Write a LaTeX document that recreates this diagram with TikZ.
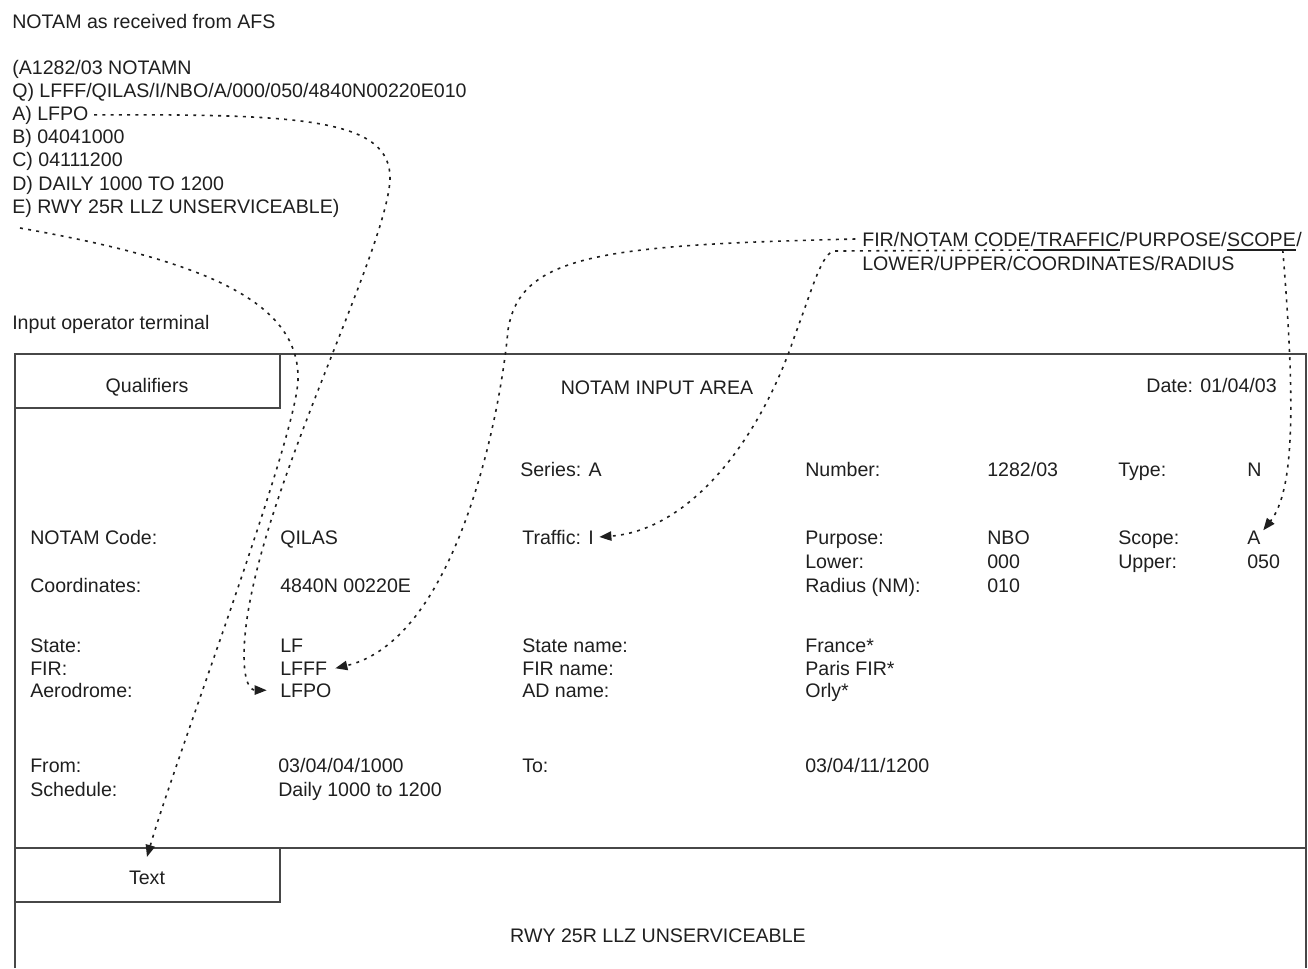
\documentclass[tikz,border=0pt]{standalone}
\usepackage{fontspec}
\setmainfont{Liberation Sans}
\usetikzlibrary{arrows.meta}
\definecolor{ink}{gray}{0.12}
\definecolor{framec}{gray}{0.28}
\tikzset{
  txt/.style={anchor=base west, inner sep=0pt, text=ink},
  txtr/.style={anchor=base east, inner sep=0pt, text=ink},
  txtc/.style={anchor=base, inner sep=0pt, text=ink},
  frame/.style={draw=framec, line width=1.4pt},
  uline/.style={draw=ink, line width=1pt},
  link/.style={draw=ink, line width=1.2pt, dash pattern=on 2.2pt off 4pt,
    -{Triangle[length=9pt,width=7pt]}},
}
\begin{document}
\begin{tikzpicture}[x=0.75pt,y=-0.75pt,font=\fontsize{14.7pt}{17.6pt}\selectfont]
\useasboundingbox (0,0) rectangle (1308,968);

% ---------- NOTAM as received ----------
\node[txt] (head) at (12,28) {NOTAM as received from AFS};
\node[txt] (l0) at (12,74) {(A1282/03 NOTAMN};
\node[txt] (lq) at (12,97) {Q) LFFF/QILAS/I/NBO/A/000/050/4840N00220E010};
\node[txt] (la) at (12,120) {A) LFPO};
\node[txt] (lb) at (12,143) {B) 04041000};
\node[txt] (lc) at (12,166) {C) 04111200};
\node[txt] (ld) at (12,190) {D) DAILY 1000 TO 1200};
\node[txt] (le) at (12,213) {E) RWY 25R LLZ UNSERVICEABLE)};

% ---------- Q line legend ----------
\node[txt] (f1) at (862,246) {FIR/NOTAM CODE/};
\node[txt] (ftraf) at (f1.base east) {TRAFFIC};
\node[txt] (f2) at (ftraf.base east) {/PURPOSE/};
\node[txt] (fscope) at (f2.base east) {SCOPE};
\node[txt] (f3) at (fscope.base east) {/};
\node[txt] (f4) at (862,270) {LOWER/UPPER/COORDINATES/RADIUS};
\draw[uline] ([yshift=-3pt]ftraf.base west) -- ([yshift=-3pt]ftraf.base east);
\draw[uline] ([yshift=-3pt]fscope.base west) -- ([yshift=-3pt]fscope.base east);

\node[txt] (term) at (12,329) {Input operator terminal};

% ---------- terminal frame ----------
\draw[frame] (15,968) -- (15,354) -- (1306,354) -- (1306,968);
\draw[frame] (15,848) -- (1306,848);
\draw[frame] (280,354) -- (280,408) -- (15,408);
\draw[frame] (280,848) -- (280,902) -- (15,902);

\node[txtc] (qual) at (147,392) {Qualifiers};
\node[txtc] (area) at (657,394) {NOTAM INPUT AREA};
\node[txtr] (date) at (1277,392) {Date: 01/04/03};

\node[txt] (series) at (520,476) {Series: A};
\node[txt] (number) at (805,476) {Number:};
\node[txt] (vnumber) at (987,476) {1282/03};
\node[txt] (type) at (1118,476) {Type:};
\node[txt] (vtype) at (1247,476) {N};

\node[txt] (code) at (30,544) {NOTAM Code:};
\node[txt] (vcode) at (280,544) {QILAS};
\node[txt] (traf) at (522,544) {Traffic: I};
\node[txt] (purp) at (805,544) {Purpose:};
\node[txt] (vpurp) at (987,544) {NBO};
\node[txt] (scope) at (1118,544) {Scope:};
\node[txt] (vscope) at (1247,544) {A};

\node[txt] (lower) at (805,568) {Lower:};
\node[txt] (vlower) at (987,568) {000};
\node[txt] (upper) at (1118,568) {Upper:};
\node[txt] (vupper) at (1247,568) {050};

\node[txt] (coord) at (30,592) {Coordinates:};
\node[txt] (vcoord) at (280,592) {4840N 00220E};
\node[txt] (radius) at (805,592) {Radius (NM):};
\node[txt] (vradius) at (987,592) {010};

\node[txt] (state) at (30,652) {State:};
\node[txt] (vstate) at (280,652) {LF};
\node[txt] (sname) at (522,652) {State name:};
\node[txt] (vsname) at (805,652) {France*};

\node[txt] (fir) at (30,675) {FIR:};
\node[txt] (vfir) at (280,675) {LFFF};
\node[txt] (fname) at (522,675) {FIR name:};
\node[txt] (vfname) at (805,675) {Paris FIR*};

\node[txt] (ad) at (30,697) {Aerodrome:};
\node[txt] (vad) at (280,697) {LFPO};
\node[txt] (adname) at (522,697) {AD name:};
\node[txt] (vadname) at (805,697) {Orly*};

\node[txt] (from) at (30,772) {From:};
\node[txt] (vfrom) at (278,772) {03/04/04/1000};
\node[txt] (to) at (522,772) {To:};
\node[txt] (vto) at (805,772) {03/04/11/1200};

\node[txt] (sched) at (30,796) {Schedule:};
\node[txt] (vsched) at (278,796) {Daily 1000 to 1200};

\node[txtc] (ttext) at (147,884) {Text};
\node[txtc] (rwy) at (658,942) {RWY 25R LLZ UNSERVICEABLE};

% ---------- connectors ----------
\draw[link] ([xshift=4pt]la.east) .. controls (300,114) and (392,118) .. (390,180)
  .. controls (385,260) and (245,520) .. (244,655)
  .. controls (244,682) and (250,690) .. ([xshift=-10pt]vad.west);

\draw[link] ([xshift=6pt,yshift=-8pt]le.south west) .. controls (200,260) and (300,300) .. (298,380)
  .. controls (296,440) and (175,760) .. ([yshift=10pt]ttext.north);

\draw[link] ([xshift=-5pt]f1.west) .. controls (600,245) and (520,255) .. (508,330)
  .. controls (500,420) and (455,640) .. ([xshift=6pt]vfir.east);

\draw[link] ([yshift=-3pt]ftraf.base west) -- (835,251) .. controls (822,251) and (812,290) .. (795,335)
  .. controls (760,440) and (690,530) .. ([xshift=4pt]traf.east);

\draw[link] ([xshift=-10pt,yshift=-3pt]fscope.base east) .. controls (1295,400) and (1295,490) .. ([xshift=2pt]vscope.north east);
\end{tikzpicture}
\end{document}
